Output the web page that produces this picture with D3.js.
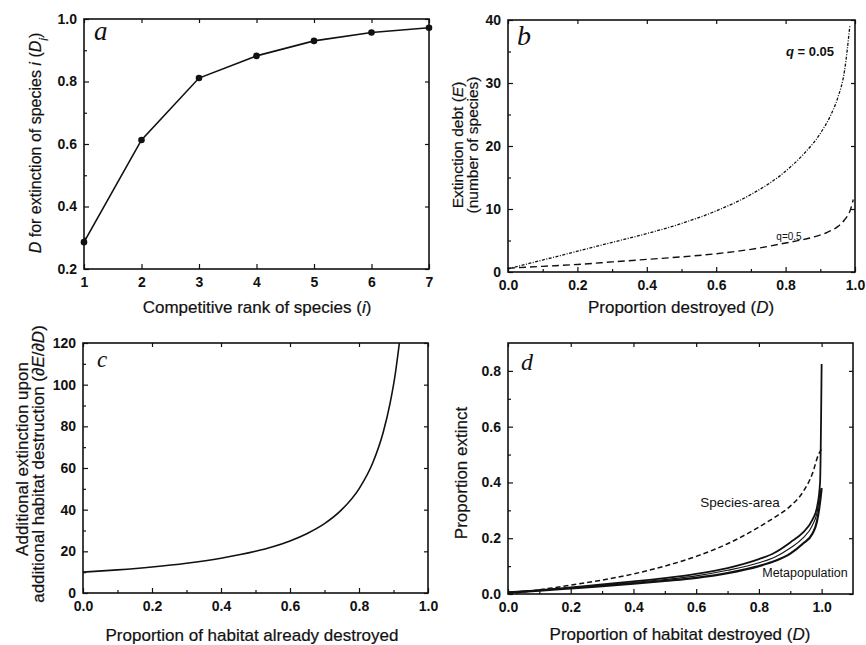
<!DOCTYPE html>
<html>
<head>
<meta charset="utf-8">
<script src="https://cdn.jsdelivr.net/npm/d3@7"></script>
<style>
body { margin: 0; background: #fff; }
svg { display: block; }
.tick text { font-family: "Liberation Sans", Arial, sans-serif; font-size: 14px; font-weight: bold; fill: #111; }
.title { font-family: "Liberation Sans", Arial, sans-serif; font-size: 17px; fill: #111; stroke: #111; stroke-width: 0.2; }
.letter { font-family: "Liberation Serif", "Times New Roman", serif; font-style: italic; fill: #111; }
.note { font-family: "Liberation Sans", Arial, sans-serif; fill: #111; }
</style>
</head>
<body>
<svg width="866" height="645"></svg>
<script>
// a: threshold D for each competitive rank
var rank = [1, 2, 3, 4, 5, 6, 7];
var rankD = [0.286, 0.613, 0.811, 0.882, 0.93, 0.957, 0.972];

// b: extinction debt
var debtD1 = [0, 0.1, 0.2, 0.3, 0.4, 0.5, 0.6, 0.7, 0.8, 0.85, 0.9, 0.93, 0.95, 0.97, 0.985];
var debtE1 = [0.5, 1.9, 3.3, 4.7, 6.1, 7.7, 9.7, 12.3, 16.0, 18.6, 22.0, 24.9, 27.6, 32.0, 39.0]; // q = 0.05
var debtD2 = [0, 0.1, 0.2, 0.3, 0.4, 0.5, 0.6, 0.7, 0.8, 0.87, 0.92, 0.95, 0.97, 0.985, 0.995];
var debtE2 = [0.6, 0.9, 1.2, 1.6, 2.0, 2.4, 2.9, 3.6, 4.6, 5.4, 6.3, 7.2, 8.3, 9.6, 11.5]; // q = 0.5

// c: marginal extinction
var margD = [0, 0.1, 0.2, 0.3, 0.4, 0.5, 0.55, 0.6, 0.65, 0.7, 0.75, 0.8, 0.84, 0.87, 0.89, 0.905, 0.917];
var margE = [10, 11.1, 12.5, 14.3, 16.7, 20, 22.2, 25, 28.6, 33.3, 40, 50, 62.5, 77, 91, 105, 120];

// d: proportion extinct
var areaD = [0, 0.1, 0.2, 0.3, 0.4, 0.5, 0.6, 0.7, 0.8, 0.85, 0.9, 0.94, 0.97, 0.99, 1.0];
var areaP = [0, 0.015, 0.032, 0.05, 0.072, 0.1, 0.135, 0.18, 0.24, 0.275, 0.315, 0.365, 0.43, 0.5, 0.52];
var metaD = [0, 0.1, 0.2, 0.3, 0.4, 0.5, 0.6, 0.7, 0.8, 0.85, 0.9, 0.94, 0.97, 0.985, 0.995, 1.0];
var metaP1 = [0.007, 0.014, 0.024, 0.034, 0.045, 0.057, 0.072, 0.093, 0.125, 0.148, 0.185, 0.22, 0.265, 0.31, 0.4, 0.825];
var metaP2 = [0.006, 0.013, 0.022, 0.031, 0.041, 0.052, 0.065, 0.085, 0.112, 0.132, 0.165, 0.2, 0.245, 0.29, 0.36, 0.38];
var metaP3 = [0.005, 0.012, 0.02, 0.028, 0.037, 0.047, 0.058, 0.075, 0.1, 0.118, 0.145, 0.18, 0.215, 0.26, 0.33, 0.38];

var svg = d3.select('svg');

function zip(xs, ys) {
  return xs.map(function(v, i) { return [v, ys[i]]; });
}

function panel(o) {
  var g = svg.append('g').attr('transform', 'translate(' + o.left + ',' + o.top + ')');
  var x = d3.scaleLinear().domain(o.xd).range([0, o.w]);
  var y = d3.scaleLinear().domain(o.yd).range([o.h, 0]);

  // minor ticks first, then majors with labels
  g.append('g').attr('transform', 'translate(0,' + o.h + ')')
    .call(d3.axisBottom(x).tickValues(o.xminor).tickSize(-3).tickFormat(''));
  g.append('g').call(d3.axisLeft(y).tickValues(o.yminor).tickSize(-3).tickFormat(''));
  g.append('g').attr('transform', 'translate(0,' + o.h + ')')
    .call(d3.axisBottom(x).tickValues(o.xticks).tickSize(-5).tickPadding(8).tickFormat(o.xfmt));
  g.append('g').call(d3.axisLeft(y).tickValues(o.yticks).tickSize(-5).tickPadding(7).tickFormat(o.yfmt));
  g.append('g').call(d3.axisTop(x).tickValues(o.xticks).tickSize(-4).tickFormat(''));
  g.append('g').attr('transform', 'translate(' + o.w + ',0)')
    .call(d3.axisRight(y).tickValues(o.yticks).tickSize(-4).tickFormat(''));
  g.selectAll('.domain').remove();
  g.selectAll('.tick line').attr('stroke', '#111').attr('stroke-width', 1.2);

  g.append('rect').attr('width', o.w).attr('height', o.h)
    .attr('fill', 'none').attr('stroke', '#111').attr('stroke-width', 1.6);

  g.x = x;
  g.y = y;
  return g;
}

function curve(g, pts, width, dash, kind) {
  var line = d3.line().x(function(d) { return g.x(d[0]); }).y(function(d) { return g.y(d[1]); })
    .curve(kind || d3.curveMonotoneX);
  g.append('path').datum(pts).attr('d', line).attr('fill', 'none')
    .attr('stroke', '#111').attr('stroke-width', width)
    .attr('stroke-dasharray', dash || null);
}

var f1 = d3.format('.1f');

// ---- a ----
var ga = panel({ left: 84, top: 19, w: 345, h: 250, xd: [1, 7], yd: [0.2, 1.0],
  xticks: rank, xminor: [], yticks: [0.2, 0.4, 0.6, 0.8, 1.0], yminor: [0.3, 0.5, 0.7, 0.9],
  xfmt: d3.format('d'), yfmt: f1 });
curve(ga, zip(rank, rankD), 1.6, null, d3.curveLinear);
ga.selectAll('circle.pt').data(zip(rank, rankD)).enter().append('circle')
  .attr('cx', function(d) { return ga.x(d[0]); })
  .attr('cy', function(d) { return ga.y(d[1]); })
  .attr('r', 3.3).attr('fill', '#111');
svg.append('text').attr('class', 'letter').attr('x', 94).attr('y', 40).attr('font-size', 27).text('a');

var ta = svg.append('text').attr('class', 'title').attr('transform', 'translate(41,143) rotate(-90)')
  .attr('text-anchor', 'middle').style('font-size', '16px');
ta.append('tspan').attr('font-style', 'italic').text('D');
ta.append('tspan').text(' for extinction of species ');
ta.append('tspan').attr('font-style', 'italic').text('i');
ta.append('tspan').text(' (');
ta.append('tspan').attr('font-style', 'italic').text('D');
ta.append('tspan').attr('font-style', 'italic').attr('font-size', 12).attr('baseline-shift', 'sub').text('i');
ta.append('tspan').text(')');

var xa = svg.append('text').attr('class', 'title').attr('x', 257).attr('y', 313).attr('text-anchor', 'middle');
xa.append('tspan').text('Competitive rank of species (');
xa.append('tspan').attr('font-style', 'italic').text('i');
xa.append('tspan').text(')');

// ---- b ----
var gb = panel({ left: 508, top: 20, w: 347, h: 252, xd: [0, 1], yd: [0, 40],
  xticks: [0, 0.2, 0.4, 0.6, 0.8, 1.0], xminor: [0.1, 0.3, 0.5, 0.7, 0.9],
  yticks: [0, 10, 20, 30, 40], yminor: [5, 15, 25, 35], xfmt: f1, yfmt: d3.format('d') });
curve(gb, zip(debtD1, debtE1), 1.3, '3,1.5,1,1.5');
curve(gb, zip(debtD2, debtE2), 1.4, '7,4');
svg.append('text').attr('class', 'letter').attr('x', 517).attr('y', 45).attr('font-size', 28).text('b');

var q1 = svg.append('text').attr('class', 'note').attr('x', 810).attr('y', 56)
  .attr('text-anchor', 'middle').attr('font-size', 13).attr('font-weight', 'bold');
q1.append('tspan').attr('font-style', 'italic').text('q');
q1.append('tspan').text(' = 0.05');
svg.append('text').attr('class', 'note').attr('x', 789).attr('y', 240)
  .attr('text-anchor', 'middle').attr('font-size', 10).text('q=0.5');

svg.append('text').attr('class', 'title').attr('transform', 'translate(463,145) rotate(-90)')
  .attr('text-anchor', 'middle').style('font-size', '15.5px').call(function(t) {
    t.append('tspan').text('Extinction debt (');
    t.append('tspan').attr('font-style', 'italic').text('E');
    t.append('tspan').text(')');
  });
svg.append('text').attr('class', 'title').attr('transform', 'translate(478,145) rotate(-90)')
  .attr('text-anchor', 'middle').style('font-size', '15.5px').text('(number of species)');

var xb = svg.append('text').attr('class', 'title').attr('x', 681).attr('y', 313).attr('text-anchor', 'middle');
xb.append('tspan').text('Proportion destroyed (');
xb.append('tspan').attr('font-style', 'italic').text('D');
xb.append('tspan').text(')');

// ---- c ----
var gc = panel({ left: 83, top: 343, w: 345, h: 250, xd: [0, 1], yd: [0, 120],
  xticks: [0, 0.2, 0.4, 0.6, 0.8, 1.0], xminor: [0.1, 0.3, 0.5, 0.7, 0.9],
  yticks: [0, 20, 40, 60, 80, 100, 120], yminor: [10, 30, 50, 70, 90, 110], xfmt: f1, yfmt: d3.format('d') });
curve(gc, zip(margD, margE), 1.6);
svg.append('text').attr('class', 'letter').attr('x', 97).attr('y', 367).attr('font-size', 23).text('c');

svg.append('text').attr('class', 'title').attr('transform', 'translate(28,459) rotate(-90)')
  .attr('text-anchor', 'middle').text('Additional extinction upon');
svg.append('text').attr('class', 'title').attr('transform', 'translate(44,464) rotate(-90)')
  .attr('text-anchor', 'middle').call(function(t) {
    t.append('tspan').text('additional habitat destruction (\u2202');
    t.append('tspan').attr('font-style', 'italic').text('E');
    t.append('tspan').text('/\u2202');
    t.append('tspan').attr('font-style', 'italic').text('D');
    t.append('tspan').text(')');
  });
svg.append('text').attr('class', 'title').attr('x', 252).attr('y', 641).attr('text-anchor', 'middle')
  .text('Proportion of habitat already destroyed');

// ---- d ----
var gd = panel({ left: 508, top: 343, w: 345, h: 251, xd: [0, 1.1], yd: [0, 0.9],
  xticks: [0, 0.2, 0.4, 0.6, 0.8, 1.0], xminor: [0.1, 0.3, 0.5, 0.7, 0.9],
  yticks: [0, 0.2, 0.4, 0.6, 0.8], yminor: [0.1, 0.3, 0.5, 0.7], xfmt: f1, yfmt: f1 });
curve(gd, zip(areaD, areaP), 1.5, '5,3');
curve(gd, zip(metaD, metaP2), 1.1);
curve(gd, zip(metaD, metaP3), 2.2);
curve(gd, zip(metaD, metaP1), 1.8);
svg.append('text').attr('class', 'letter').attr('x', 521).attr('y', 370).attr('font-size', 24).text('d');

svg.append('text').attr('class', 'note').attr('x', 740).attr('y', 507)
  .attr('text-anchor', 'middle').attr('font-size', 13.5).text('Species-area');
svg.append('text').attr('class', 'note').attr('x', 805).attr('y', 577)
  .attr('text-anchor', 'middle').attr('font-size', 12.5).text('Metapopulation');

svg.append('text').attr('class', 'title').attr('transform', 'translate(467,473) rotate(-90)')
  .attr('text-anchor', 'middle').text('Proportion extinct');
var xd = svg.append('text').attr('class', 'title').attr('x', 680).attr('y', 640).attr('text-anchor', 'middle');
xd.append('tspan').text('Proportion of habitat destroyed (');
xd.append('tspan').attr('font-style', 'italic').text('D');
xd.append('tspan').text(')');
</script>
</body>
</html>
